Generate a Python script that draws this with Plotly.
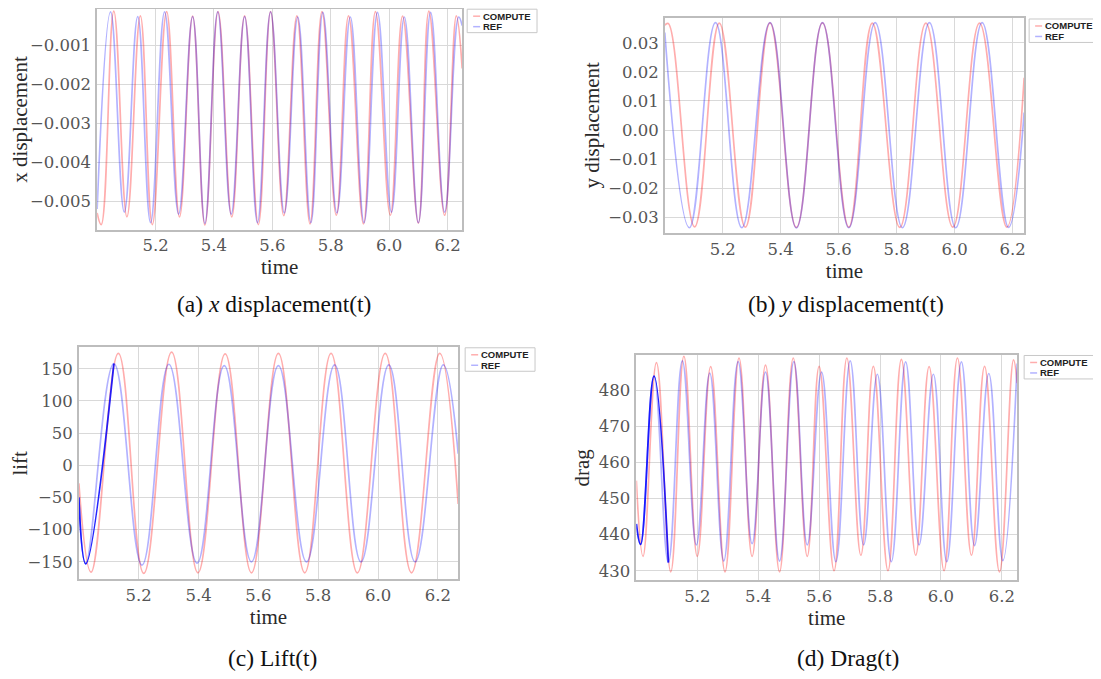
import plotly.graph_objects as go

# ---------------- data (extrema + end points) ----------------
# (a) x displacement
xd_ref_t = [5.000, 5.046, 5.093, 5.139, 5.183, 5.231, 5.279, 5.327, 5.369, 5.413, 5.459, 5.505,
            5.549, 5.594, 5.641, 5.687, 5.732, 5.773, 5.821, 5.867, 5.914, 5.960, 6.008, 6.052,
            6.100, 6.142, 6.190, 6.238, 6.250]
xd_ref_v = [-0.00520, -0.00015, -0.00528, -0.00027, -0.00555, -0.00015, -0.00533, -0.00027,
            -0.00557, -0.00015, -0.00533, -0.00027, -0.00555, -0.00015, -0.00530, -0.00028,
            -0.00555, -0.00016, -0.00530, -0.00028, -0.00555, -0.00016, -0.00528, -0.00028,
            -0.00555, -0.00016, -0.00528, -0.00028, -0.00050]
xd_cmp_t = [5.000, 5.014, 5.057, 5.102, 5.148, 5.189, 5.238, 5.282, 5.327, 5.369, 5.414, 5.461,
            5.505, 5.552, 5.594, 5.639, 5.684, 5.729, 5.770, 5.819, 5.861, 5.912, 5.953, 6.004,
            6.046, 6.100, 6.136, 6.190, 6.230, 6.250]
xd_cmp_v = [-0.00530, -0.00560, -0.00013, -0.00540, -0.00025, -0.00560, -0.00014, -0.00540,
            -0.00026, -0.00561, -0.00014, -0.00540, -0.00025, -0.00560, -0.00014, -0.00537,
            -0.00025, -0.00558, -0.00014, -0.00536, -0.00025, -0.00558, -0.00014, -0.00536,
            -0.00026, -0.00556, -0.00013, -0.00536, -0.00025, -0.00160]

# (b) y displacement
yd_ref_t = [5.000, 5.085, 5.175, 5.266, 5.363, 5.454, 5.544, 5.635, 5.726, 5.820, 5.913, 6.004,
            6.095, 6.186, 6.240]
yd_ref_v = [0.0335, -0.0335, 0.0369, -0.0335, 0.0369, -0.0336, 0.0369, -0.0335, 0.0369,
            -0.0335, 0.0369, -0.0335, 0.0369, -0.0334, 0.0060]
yd_cmp_t = [5.000, 5.012, 5.103, 5.188, 5.278, 5.363, 5.454, 5.544, 5.635, 5.716, 5.811, 5.901,
            5.994, 6.086, 6.180, 6.240]
yd_cmp_v = [0.0360, 0.0366, -0.0332, 0.0367, -0.0333, 0.0368, -0.0334, 0.0368, -0.0333, 0.0367,
            -0.0334, 0.0367, -0.0333, 0.0367, -0.0333, 0.0180]

# (c) lift
lift_ref_t = [5.000, 5.023, 5.117, 5.211, 5.301, 5.395, 5.486, 5.577, 5.667, 5.761, 5.855,
              5.943, 6.036, 6.124, 6.218, 6.268]
lift_ref_v = [-50, -153, 158, -155, 157, -152, 155, -150, 155, -150, 156, -150, 156, -150, 156, 18]
lift_cmp_t = [5.000, 5.041, 5.132, 5.217, 5.310, 5.398, 5.489, 5.577, 5.667, 5.755, 5.843,
              5.931, 6.024, 6.112, 6.206, 6.268]
lift_cmp_v = [-28, -166, 174, -168, 176, -167, 173, -167, 174, -167, 174, -167, 174, -167, 174, -60]

# (d) drag
drag_ref_t = [5.000, 5.014, 5.058, 5.105, 5.151, 5.197, 5.241, 5.287, 5.334, 5.380, 5.424,
              5.470, 5.517, 5.561, 5.608, 5.655, 5.702, 5.746, 5.791, 5.837, 5.884, 5.928,
              5.975, 6.019, 6.067, 6.110, 6.157, 6.203, 6.250]
drag_ref_v = [443.0, 437.3, 484.0, 432.3, 488.2, 437.2, 484.8, 432.7, 488.0, 437.5, 485.1,
              432.7, 488.0, 437.2, 485.1, 432.5, 488.2, 437.2, 484.5, 432.5, 487.9, 437.2,
              484.5, 432.5, 487.9, 437.0, 484.7, 432.8, 487.5]
drag_cmp_t = [5.000, 5.022, 5.066, 5.113, 5.156, 5.200, 5.244, 5.291, 5.337, 5.380, 5.424,
              5.470, 5.515, 5.561, 5.600, 5.649, 5.691, 5.737, 5.778, 5.826, 5.870, 5.917,
              5.961, 6.010, 6.054, 6.100, 6.143, 6.192, 6.238, 6.250]
drag_cmp_v = [455.0, 434.0, 487.7, 429.7, 489.5, 434.0, 486.6, 429.7, 489.0, 434.0, 487.0,
              429.7, 489.0, 434.0, 486.7, 430.0, 489.0, 434.3, 486.7, 430.0, 488.6, 434.3,
              486.6, 430.0, 489.0, 434.3, 486.7, 429.7, 488.5, 482.0]

x_ticks = [5.2, 5.4, 5.6, 5.8, 6.0, 6.2]
xd_ticks = [-0.001, -0.002, -0.003, -0.004, -0.005]
yd_ticks = [0.03, 0.02, 0.01, 0.00, -0.01, -0.02, -0.03]
lift_ticks = [150, 100, 50, 0, -50, -100, -150]
drag_ticks = [480, 470, 460, 450, 440, 430]

y_titles = ["x displacement", "y displacement", "lift", "drag"]
captions = ["(a) <i>x</i> displacement(t)", "(b) <i>y</i> displacement(t)",
            "(c) Lift(t)", "(d) Drag(t)"]
series_names = ["COMPUTE", "REF"]

# ---------------- layout geometry (page pixels) ----------------
# the page body has an 8px margin, so the figure is shifted by (8, 8)
OX, OY = 8, 8
W, H = 1093, 671
panels = [
    dict(l=97.3, r=463, t=8.2, b=229, xr=[5.0, 6.25], yr=[-0.00573, -0.00008],
         yt=xd_ticks, fmt=".3f", leg=(468, 8.2), cap=(274, 303)),
    dict(l=666, r=1026, t=16.7, b=232.3, xr=[5.0, 6.24], yr=[-0.0353, 0.0386],
         yt=yd_ticks, fmt=".2f", leg=(1031, 18), cap=(848, 303)),
    dict(l=79, r=459, t=346.7, b=579.3, xr=[5.0, 6.268], yr=[-177.3, 183.5],
         yt=lift_ticks, fmt="d", leg=(466, 347.3), cap=(273, 658)),
    dict(l=637.5, r=1019, t=355, b=580, xr=[5.0, 6.25], yr=[427.4, 489.7],
         yt=drag_ticks, fmt="d", leg=(1026, 355), cap=(850, 658)),
]
data = [
    (xd_cmp_t, xd_cmp_v, xd_ref_t, xd_ref_v, 0),
    (yd_cmp_t, yd_cmp_v, yd_ref_t, yd_ref_v, 0),
    (lift_cmp_t, lift_cmp_v, lift_ref_t, lift_ref_v, 3),
    (drag_cmp_t, drag_cmp_v, drag_ref_t, drag_ref_v, 4),
]

RED = "rgba(255,0,0,0.32)"
BLUE = "rgba(0,0,255,0.30)"
DARKBLUE = "rgba(0,0,255,0.85)"
SERIF = "Liberation Serif"
TICKSERIF = "DejaVu Serif"
LEG_W, LEG_H = 70, 23.5


def px(x):
    return (x - OX) / W


def py(y):
    return 1 - (y - OY) / H


fig = go.Figure()
layout = dict(width=W, height=H, margin=dict(l=0, r=0, t=0, b=0),
              paper_bgcolor="white", plot_bgcolor="white", showlegend=False)
annotations = []
shapes = []
colors = [RED, BLUE]

for i, (p, d) in enumerate(zip(panels, data)):
    n = "" if i == 0 else str(i + 1)
    xa, ya = "x" + n, "y" + n
    ct, cv, rt, rv, ndark = d
    fig.add_trace(go.Scatter(x=ct, y=cv, mode="lines", name=series_names[0],
                             line=dict(color=RED, width=1.7, shape="spline", smoothing=1.2),
                             xaxis=xa, yaxis=ya))
    fig.add_trace(go.Scatter(x=rt, y=rv, mode="lines", name=series_names[1],
                             line=dict(color=BLUE, width=1.7, shape="spline", smoothing=1.2),
                             xaxis=xa, yaxis=ya))
    if ndark:
        fig.add_trace(go.Scatter(x=rt[:ndark], y=rv[:ndark], mode="lines", name=series_names[1],
                                 line=dict(color=DARKBLUE, width=1.8, shape="spline", smoothing=1.2),
                                 xaxis=xa, yaxis=ya))
    axcommon = dict(showgrid=True, gridcolor="#d9d9d9", gridwidth=1, zeroline=False,
                    showline=True, mirror=True, linecolor="#bdbdbd", linewidth=1.5,
                    tickfont=dict(family=TICKSERIF, size=16.5, color="#555555"))
    layout["xaxis" + n] = dict(axcommon, domain=[px(p["l"]), px(p["r"])], range=p["xr"],
                               anchor=ya, tickvals=x_ticks, tickformat=".1f", ticks="",
                               title=dict(text="time", standoff=0,
                                          font=dict(family=SERIF, size=21, color="#2a2a2a")))
    layout["yaxis" + n] = dict(axcommon, domain=[py(p["b"]), min(1.0, py(p["t"]))], range=p["yr"],
                               anchor=xa, tickvals=p["yt"], tickformat=p["fmt"],
                               ticks="outside", ticklen=1, tickcolor="rgba(0,0,0,0)",
                               title=dict(text=y_titles[i], standoff=3,
                                          font=dict(family=SERIF, size=21, color="#2a2a2a")))
    # legend box drawn by hand (matplotlib-style compact legend)
    lx, ly = p["leg"]
    shapes.append(dict(type="rect", xref="paper", yref="paper",
                       x0=px(lx), x1=px(lx + LEG_W), y0=py(ly + LEG_H), y1=py(ly),
                       line=dict(color="#c8c8c8", width=1), fillcolor="white", layer="above"))
    for k, name in enumerate(series_names):
        yy = ly + 7.0 + k * 10.5
        shapes.append(dict(type="line", xref="paper", yref="paper",
                           x0=px(lx + 6), x1=px(lx + 13), y0=py(yy), y1=py(yy),
                           line=dict(color=colors[k], width=1.5), layer="above"))
        annotations.append(dict(text="<b>" + name + "</b>", x=px(lx + 15), y=py(yy),
                                xref="paper", yref="paper", xanchor="left", yanchor="middle",
                                showarrow=False, borderpad=0,
                                font=dict(family="Liberation Sans", size=9.5, color="#222")))
    annotations.append(dict(text=captions[i], x=px(p["cap"][0]), y=py(p["cap"][1]),
                            xref="paper", yref="paper", xanchor="center", yanchor="middle",
                            showarrow=False, font=dict(family=SERIF, size=23.5, color="#111")))

layout["annotations"] = annotations
layout["shapes"] = shapes
fig.update_layout(**layout)
fig.write_html("out.html")
